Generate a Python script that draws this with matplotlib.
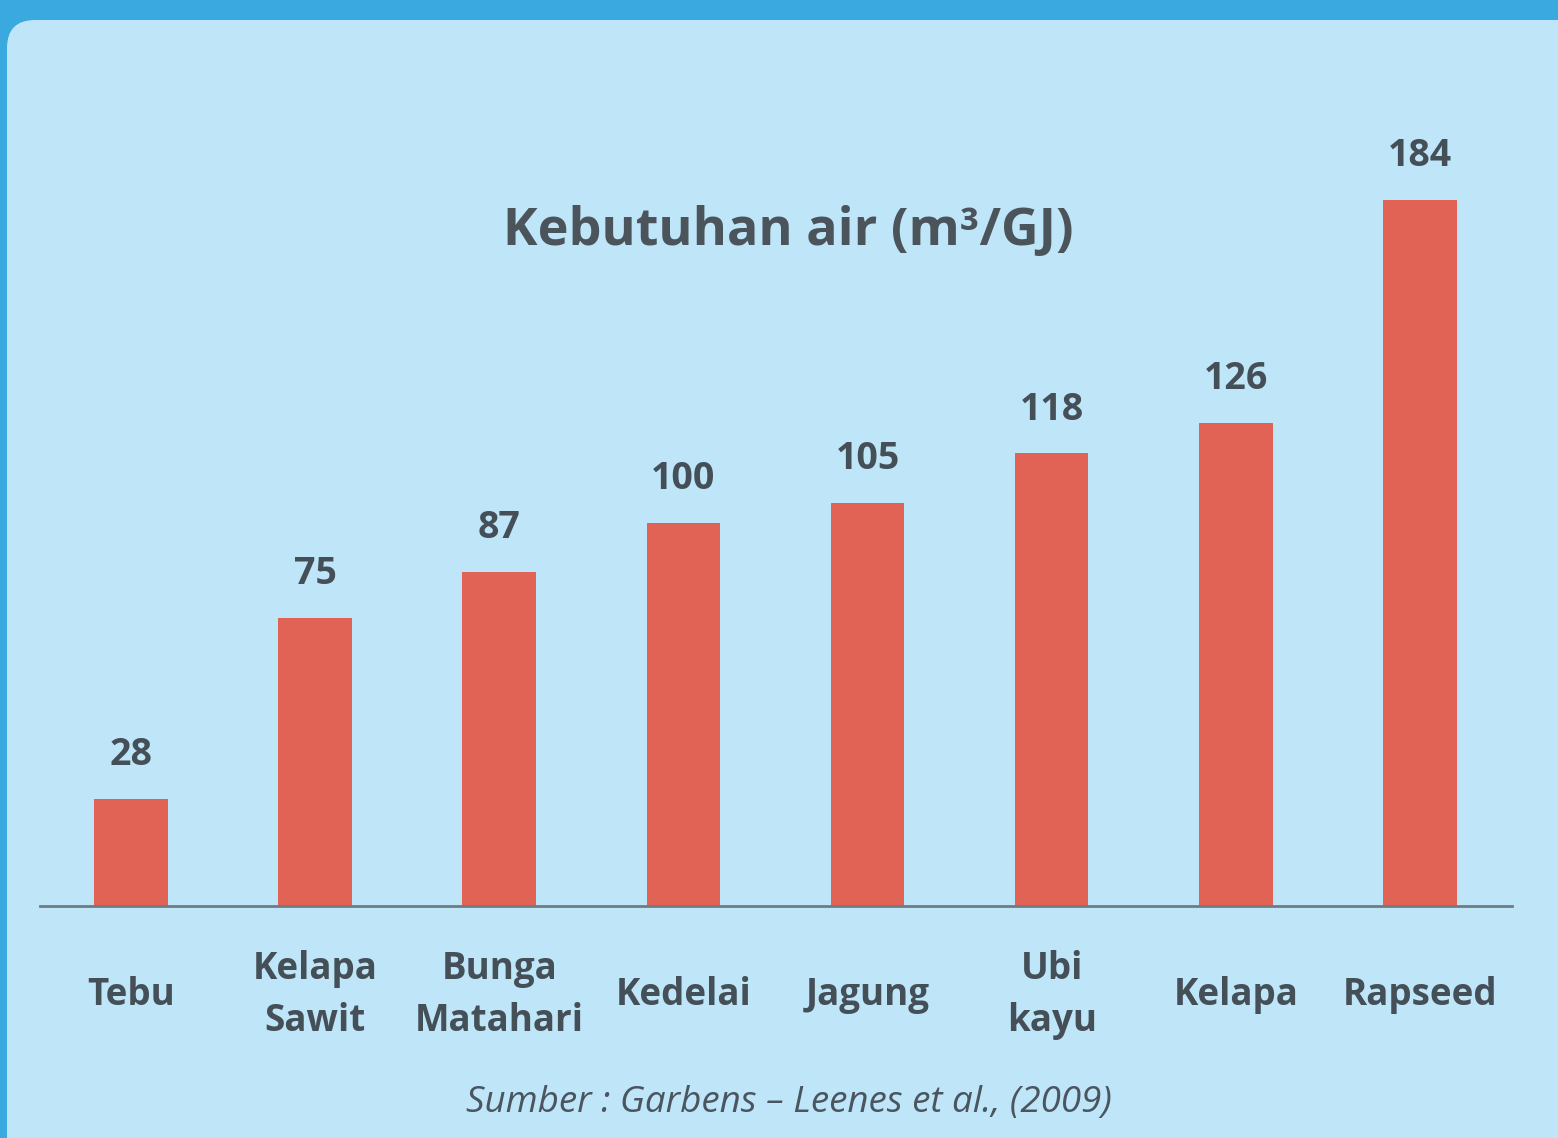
import matplotlib
matplotlib.use("Agg")
import matplotlib.pyplot as plt
from matplotlib.patches import FancyBboxPatch

categories = ['Tebu', 'Kelapa\nSawit', 'Bunga\nMatahari', 'Kedelai', 'Jagung',
              'Ubi\nkayu', 'Kelapa', 'Rapseed']
values = [28, 75, 87, 100, 105, 118, 126, 184]

title = 'Kebutuhan air (m\u00b3/GJ)'
source = 'Sumber : Garbens \u2013 Leenes et al., (2009)'

OUTER, INNER = '#39a9df', '#bee6f8'
BAR = '#e06355'
TXT = '#454f58'

plt.rcParams['font.family'] = ['Open Sans', 'DejaVu Sans']

fig = plt.figure(figsize=(15.58, 11.38), dpi=100)
fig.patch.set_facecolor(OUTER)

# light inner panel with rounded corners (figure fractions)
W, H = 1558, 1138
panel = FancyBboxPatch((7 / W, -0.05), 1.2, 1 - 20 / H + 0.05,
                       boxstyle='round,pad=0,rounding_size=0.018',
                       transform=fig.transFigure, facecolor=INNER,
                       edgecolor='none', zorder=0, mutation_aspect=W / H)
fig.patches.append(panel)

ax = fig.add_axes([40 / W, 232 / H, 1472 / W, 767 / H])
ax.set_zorder(2)
ax.set_facecolor('none')
x = range(len(values))
ax.bar(x, values, width=0.4, color=BAR, zorder=2)
for xi, v in zip(x, values):
    ax.text(xi, v + 6.5, str(v), ha='center', va='bottom', fontsize=27,
            fontweight='bold', color=TXT)

ax.set_xlim(-0.494, 7.5)
ax.set_ylim(0, 200)
ax.set_yticks([])
ax.set_xticks(list(x))
ax.set_xticklabels(categories, fontsize=26.5, fontweight='bold', color=TXT,
                   linespacing=1.5)
ax.tick_params(axis='x', length=0, pad=64)
for lbl in ax.get_xticklabels():
    lbl.set_verticalalignment('center')
ax.spines[['top', 'right', 'left']].set_visible(False)
ax.spines['bottom'].set_color('#6f7b85')
ax.spines['bottom'].set_linewidth(2)

fig.text(788 / W, 1 - 231 / H, title, ha='center', va='center',
         fontsize=37.5, fontweight='bold', color='#4b545b', zorder=3)
fig.text(789 / W, 1 - 1103 / H, source, ha='center', va='center',
         fontsize=26.5, style='italic', color='#4a5560', zorder=3)

fig.savefig('out.png', facecolor=fig.get_facecolor())
